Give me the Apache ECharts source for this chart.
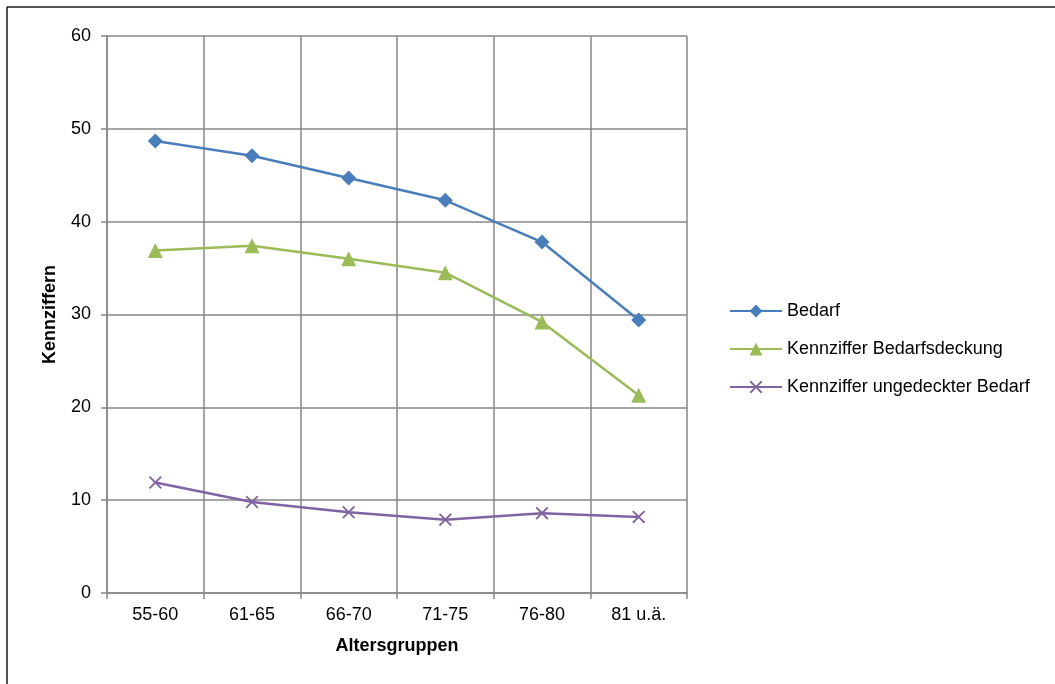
<!DOCTYPE html>
<html>
<head>
<meta charset="utf-8">
<script src="https://cdn.jsdelivr.net/npm/echarts@6/dist/echarts.min.js"></script>
<style>
  html, body { margin: 0; padding: 0; background: #ffffff; }
  #chart { width: 1055px; height: 684px; }
</style>
</head>
<body>
<div id="chart"></div>
<script>
// Age groups and indicator values
const categories = ['55-60', '61-65', '66-70', '71-75', '76-80', '81 u.ä.'];
const bedarf = [48.7, 47.1, 44.7, 42.3, 37.8, 29.4];
const bedarfsdeckung = [36.9, 37.4, 36.0, 34.5, 29.2, 21.3];
const ungedeckt = [11.9, 9.8, 8.7, 7.9, 8.6, 8.2];
const yTicks = [0, 10, 20, 30, 40, 50, 60];

const FONT = '"Liberation Sans", Arial, sans-serif';
const GRID_COLOR = '#878787';
const CROSS = 'path://M0,1L1,0L5,4L9,0L10,1L6,5L10,9L9,10L5,6L1,10L0,9L4,5Z';

const chart = echarts.init(document.getElementById('chart'), null, { renderer: 'canvas' });

function lineSeries(name, data, color, symbol, size) {
  return {
    name: name,
    type: 'line',
    data: data,
    symbol: symbol,
    symbolSize: size,
    showAllSymbol: true,
    lineStyle: { color: color, width: 2.5 },
    itemStyle: { color: color },
    emphasis: { disabled: true },
    animation: false
  };
}

chart.setOption({
  backgroundColor: '#ffffff',
  animation: false,
  textStyle: { fontFamily: FONT },
  graphic: [
    // frame lines around the chart area
    { type: 'line', shape: { x1: 7, y1: 7, x2: 1055, y2: 7 }, style: { stroke: '#1a1a1a', lineWidth: 1.5 } },
    { type: 'line', shape: { x1: 7, y1: 7, x2: 7, y2: 684 }, style: { stroke: '#1a1a1a', lineWidth: 1.5 } }
  ],
  grid: { left: 107, right: 368, top: 36, bottom: 91, containLabel: false },
  legend: {
    orient: 'vertical',
    left: 729,
    top: 302,
    padding: 0,
    itemWidth: 52,
    itemHeight: 16,
    itemGap: 20,
    textStyle: { fontFamily: FONT, fontSize: 18, color: '#000000' },
    data: ['Bedarf', 'Kennziffer Bedarfsdeckung', 'Kennziffer ungedeckter Bedarf']
  },
  xAxis: {
    type: 'category',
    data: categories,
    boundaryGap: true,
    name: 'Altersgruppen',
    nameLocation: 'middle',
    nameGap: 44,
    nameTextStyle: { fontFamily: FONT, fontSize: 18, fontWeight: 'bold', color: '#000000' },
    axisLine: { lineStyle: { color: GRID_COLOR, width: 1.5 } },
    axisTick: { show: true, length: 6, inside: false, alignWithLabel: false, lineStyle: { color: GRID_COLOR, width: 1.5 } },
    axisLabel: { fontFamily: FONT, fontSize: 18, color: '#000000', margin: 13 },
    splitLine: { show: true, lineStyle: { color: GRID_COLOR, width: 1.5 } }
  },
  yAxis: {
    type: 'value',
    min: yTicks[0],
    max: yTicks[yTicks.length - 1],
    interval: 10,
    name: 'Kennziffern',
    nameLocation: 'middle',
    nameGap: 48,
    nameRotate: 90,
    nameTextStyle: { fontFamily: FONT, fontSize: 18, fontWeight: 'bold', color: '#000000' },
    axisLine: { show: true, lineStyle: { color: GRID_COLOR, width: 1.5 } },
    axisTick: { show: true, length: 6, lineStyle: { color: GRID_COLOR, width: 1.5 } },
    axisLabel: { fontFamily: FONT, fontSize: 18, color: '#000000', margin: 16 },
    splitLine: { show: true, lineStyle: { color: GRID_COLOR, width: 1.5 } }
  },
  series: [
    lineSeries('Bedarf', bedarf, '#4a7ebb', 'diamond', 15),
    lineSeries('Kennziffer Bedarfsdeckung', bedarfsdeckung, '#9bbb59', 'triangle', 15),
    lineSeries('Kennziffer ungedeckter Bedarf', ungedeckt, '#8064a2', CROSS, 13)
  ]
});
</script>
</body>
</html>
